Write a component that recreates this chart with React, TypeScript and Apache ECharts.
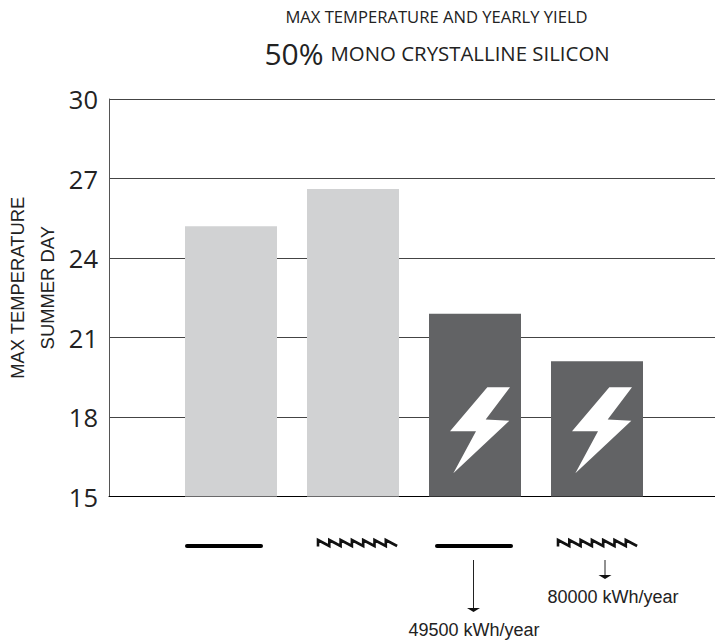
import React, { useEffect, useRef } from "react";
import * as echarts from "echarts";

const categories = ["", "Flat, no PV", "Sawtooth, no PV", "Flat, PV", "Sawtooth, PV", " "];
const greyValues = [null, 25.2, 26.6, null, null, null];
const darkValues = [null, null, null, 21.9, 20.1, null];
const boltLevels = [null, null, null, 17.5, 17.5, null];
const yTicks = { min: 15, max: 30, interval: 3 };
const yieldLabels = ["49500 kWh/year", "80000 kWh/year"];

const TITLE_TOP = "MAX TEMPERATURE AND YEARLY YIELD";
const TITLE_PCT = "50%";
const TITLE_REST = "MONO CRYSTALLINE SILICON";
const Y_NAME = "MAX TEMPERATURE\nSUMMER DAY";

const BOLT =
  "path://M202 262L270 262L197 358L268 362L100 518L168 393L90 393Z";

function sawPoints(x0: number) {
  const pts: number[][] = [[x0, 546.5]];
  const w = 11.3;
  for (let i = 0; i < 7; i++) {
    pts.push([x0 + i * w, 540]);
    pts.push([x0 + (i + 1) * w, 546]);
  }
  return pts;
}

function flat(x: number) {
  return {
    type: "line",
    shape: { x1: x, y1: 546, x2: x + 74, y2: 546 },
    style: { stroke: "#000", lineWidth: 4, lineCap: "round" },
  };
}

function saw(x: number) {
  return {
    type: "polyline",
    shape: { points: sawPoints(x) },
    style: { stroke: "#111", lineWidth: 2.6, fill: "none" },
  };
}

function arrow(x: number, y1: number, y2: number) {
  return [
    {
      type: "line",
      shape: { x1: x, y1, x2: x, y2 },
      style: { stroke: "#222", lineWidth: 1 },
    },
    {
      type: "polygon",
      shape: { points: [[x - 6.5, y2 - 1], [x + 6.5, y2 - 1], [x, y2 + 3]] },
      style: { fill: "#111" },
    },
  ];
}

function label(text: string, cx: number, y: number) {
  return {
    type: "text",
    x: cx,
    y,
    style: {
      text,
      fill: "#222",
      font: '18px "Liberation Sans"',
      align: "center",
      verticalAlign: "middle",
    },
  };
}

export default function App() {
  const ref = useRef<HTMLDivElement>(null);
  useEffect(() => {
    document.body.style.margin = "0";
    const chart = echarts.init(ref.current!, undefined, { renderer: "svg" });
    chart.setOption({
      animation: false,
      backgroundColor: "#fff",
      grid: {
        left: 109,
        top: 99,
        width: 610,
        height: 397.5,
        containLabel: false,
        outerBoundsMode: "none",
      },
      title: [
        {
          text: TITLE_TOP,
          left: 431.5,
          top: 3,
          textAlign: "center",
          textStyle: { fontFamily: "Open Sans", fontSize: 16.6, fontWeight: "normal", color: "#222" },
        },
        {
          text: `{a|${TITLE_PCT}} {b|${TITLE_REST}}`,
          left: 432,
          top: 33,
          textAlign: "center",
          textStyle: {
            fontWeight: "normal",
            rich: {
              a: { fontFamily: "Open Sans", fontSize: 30, fontWeight: "normal", color: "#222" },
              b: { fontFamily: "Open Sans", fontSize: 20.4, fontWeight: "normal", color: "#222", padding: [0, 0, 0, 2] },
            },
          },
        },
      ],
      xAxis: {
        type: "category",
        data: categories,
        boundaryGap: false,
        axisLine: { show: true, onZero: false, lineStyle: { color: "#000", width: 1 } },
        axisTick: { show: false },
        axisLabel: { show: false },
        splitLine: { show: false },
      },
      yAxis: {
        type: "value",
        min: yTicks.min,
        max: yTicks.max,
        interval: yTicks.interval,
        name: Y_NAME,
        nameLocation: "middle",
        nameGap: 47,
        nameRotate: 90,
        nameMoveOverlap: false,
        nameTextStyle: {
          fontFamily: "Liberation Sans",
          fontSize: 18.4,
          lineHeight: 30,
          color: "#222",
          padding: [0, 0, 0, 20],
        },
        axisLine: { show: true, lineStyle: { color: "#555", width: 1 } },
        axisTick: { show: false },
        axisLabel: {
          fontFamily: "Open Sans",
          fontSize: 25.5,
          color: "#222",
          margin: 11,
        },
        splitLine: { show: true, lineStyle: { color: "#444", width: 1 } },
      },
      series: [
        {
          type: "bar",
          data: greyValues,
          barWidth: 92,
          barGap: "-100%",
          itemStyle: { color: "#d1d2d3" },
          z: 2,
        },
        {
          type: "bar",
          data: darkValues,
          barWidth: 92,
          barGap: "-100%",
          itemStyle: { color: "#626365" },
          z: 2,
        },
        {
          type: "scatter",
          data: boltLevels,
          symbol: BOLT,
          symbolSize: [60, 86],
          symbolOffset: [5, 0],
          itemStyle: { color: "#fff", opacity: 1 },
          z: 3,
          silent: true,
        },
      ],
      graphic: [
        flat(187),
        saw(318),
        flat(437),
        saw(558),
        ...arrow(473.5, 560, 609),
        ...arrow(605, 560, 576),
        label(yieldLabels[0], 474, 630),
        label(yieldLabels[1], 613, 597),
      ],
    });
    return () => chart.dispose();
  }, []);
  return <div ref={ref} style={{ position: "absolute", left: 0, top: 0, width: 715, height: 640 }} />;
}
